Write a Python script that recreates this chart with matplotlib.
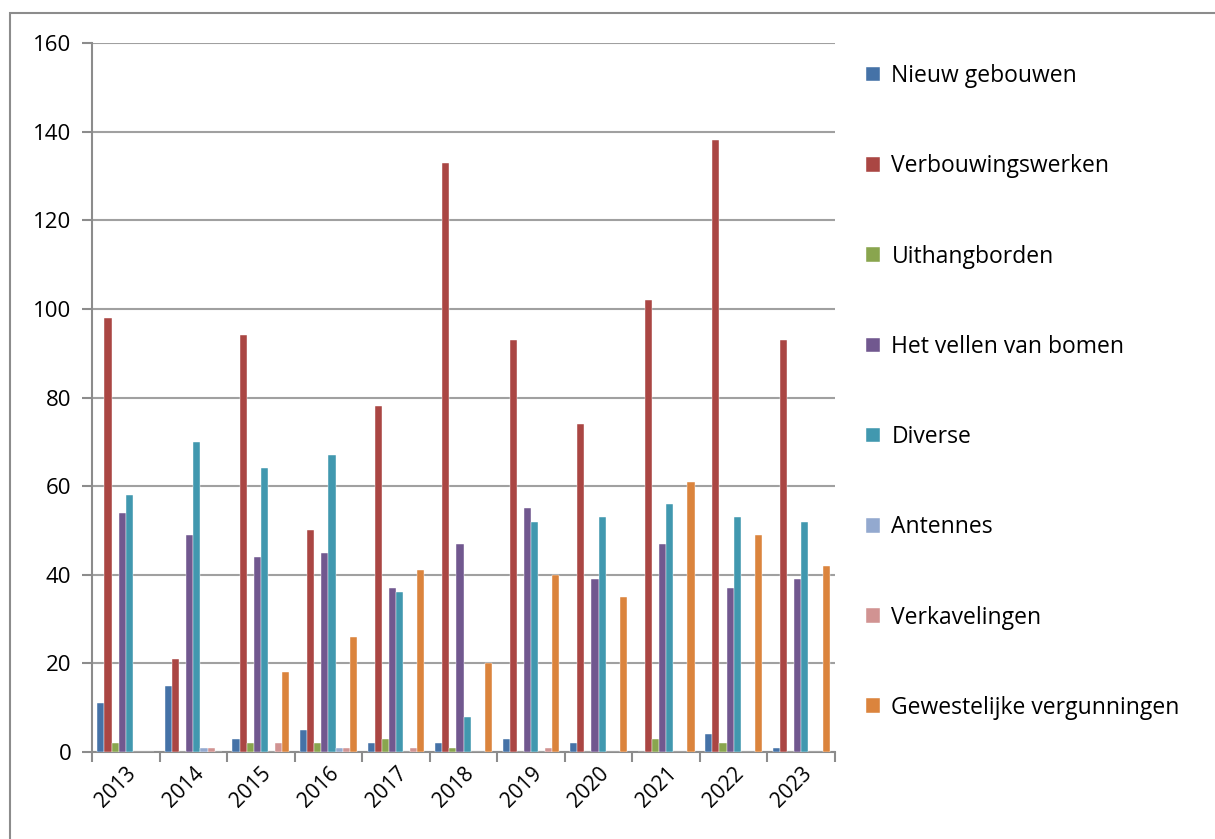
import matplotlib
matplotlib.use('Agg')
import matplotlib.pyplot as plt
import matplotlib.patches as mpatches
import numpy as np

years = ['2013', '2014', '2015', '2016', '2017', '2018', '2019', '2020', '2021', '2022', '2023']

nieuw_gebouwen = [11, 15, 3, 5, 2, 2, 3, 2, 0, 4, 1]
verbouwingswerken = [98, 21, 94, 50, 78, 133, 93, 74, 102, 138, 93]
uithangborden = [2, 0, 2, 2, 3, 1, 0, 0, 3, 2, 0]
vellen_bomen = [54, 49, 44, 45, 37, 47, 55, 39, 47, 37, 39]
diverse = [58, 70, 64, 67, 36, 8, 52, 53, 56, 53, 52]
antennes = [0, 1, 0, 1, 0, 0, 0, 0, 0, 0, 0]
verkavelingen = [0, 1, 2, 1, 1, 0, 1, 0, 0, 0, 0]
gewestelijk = [0, 0, 18, 26, 41, 20, 40, 35, 61, 49, 42]

series = [
    ('Nieuw gebouwen', nieuw_gebouwen, '#4572A7'),
    ('Verbouwingswerken', verbouwingswerken, '#AA4643'),
    ('Uithangborden', uithangborden, '#89A54E'),
    ('Het vellen van bomen', vellen_bomen, '#71588F'),
    ('Diverse', diverse, '#4198AF'),
    ('Antennes', antennes, '#93A9CF'),
    ('Verkavelingen', verkavelingen, '#D19392'),
    ('Gewestelijke vergunningen', gewestelijk, '#DB843D'),
]

plt.rcParams['font.family'] = ['Open Sans', 'DejaVu Sans']

fig = plt.figure(figsize=(12.15, 8.39), dpi=100)
ax = fig.add_axes([92 / 1215, 1 - 752 / 839, (835 - 92) / 1215, (752 - 43) / 839])

# outer chart border
fig.patches.append(mpatches.Rectangle((10 / 1215, -0.01), 1.0, 1 - 13 / 839 + 0.01,
                                      transform=fig.transFigure, fill=False,
                                      edgecolor='#8c8c8c', linewidth=1.5))

x = np.arange(len(years))
n = len(series)
bw = 0.84 / n
for i, (name, vals, col) in enumerate(series):
    ax.bar(x - 0.42 + bw * (i + 0.5), vals, width=bw, color=col, label=name,
           edgecolor='white', linewidth=0.3, zorder=3)

ax.set_xlim(-0.5, len(years) - 0.5)
ax.set_ylim(0, 160)
ax.set_yticks(range(0, 161, 20))
ax.yaxis.grid(True, color='#a0a0a0', linewidth=1.5, zorder=0)
ax.tick_params(axis='y', length=7, width=1.5, color='#8c8c8c', labelsize=16, pad=8)

ax.set_xticks(x)
ax.set_xticklabels(years, rotation=45, ha='right', rotation_mode='anchor', fontsize=15)
ax.set_xticks(np.arange(-0.5, len(years), 1), minor=True)
ax.tick_params(axis='x', which='major', length=0, pad=8)
ax.tick_params(axis='x', which='minor', length=7, width=1.5, color='#8c8c8c')

for side in ['top', 'right']:
    ax.spines[side].set_visible(False)
for side in ['left', 'bottom']:
    ax.spines[side].set_color('#8c8c8c')
    ax.spines[side].set_linewidth(1.5)

ax.legend(loc='upper left', bbox_to_anchor=(857 / 1215, 1 - 55 / 839),
          bbox_transform=fig.transFigure, frameon=False, fontsize=16.5,
          handlelength=0.6, handleheight=0.6, handletextpad=0.5,
          labelspacing=2.89, borderaxespad=0)

fig.savefig('out.png', dpi=100)
